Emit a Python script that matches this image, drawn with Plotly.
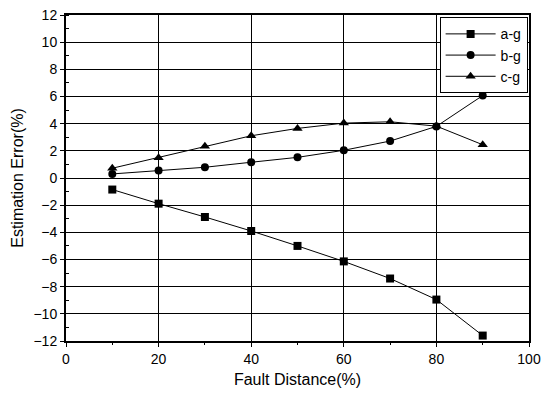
import plotly.graph_objects as go

distance = [10, 20, 30, 40, 50, 60, 70, 80, 90]
ag = [-0.85, -1.89, -2.87, -3.9, -5.0, -6.14, -7.4, -8.95, -11.6]
bg = [0.3, 0.55, 0.79, 1.16, 1.52, 2.04, 2.72, 3.8, 6.07]
cg = [0.72, 1.5, 2.33, 3.11, 3.65, 4.04, 4.14, 3.82, 2.45]

series = [("a-g", ag, "square"), ("b-g", bg, "circle"), ("c-g", cg, "triangle-up")]

fig = go.Figure()
for name, vals, sym in series:
    fig.add_trace(go.Scatter(
        x=distance, y=vals, name=name, mode="lines+markers",
        line=dict(color="black", width=1),
        marker=dict(symbol=sym, size=8 if sym != "triangle-up" else 9, color="black"),
    ))

font = "Liberation Sans, Arial, sans-serif"
fig.update_layout(
    width=541, height=396,
    margin=dict(l=66, r=12, t=15, b=55, autoexpand=False),
    paper_bgcolor="white", plot_bgcolor="white",
    font=dict(family=font, size=14, color="black"),
    showlegend=True,
    legend=dict(x=0.997, y=0.993, xanchor="right", yanchor="top",
                bordercolor="black", borderwidth=1, bgcolor="white",
                font=dict(size=14), tracegroupgap=0, itemwidth=50),
)
fig.update_xaxes(
    range=[0, 100], tickvals=[0, 20, 40, 60, 80, 100],
    showgrid=True, gridcolor="black", gridwidth=1,
    showline=True, linecolor="black", linewidth=2, mirror=True,
    ticks="outside", ticklen=4, tickcolor="black",
    minor=dict(tickvals=[10, 30, 50, 70, 90], ticks="outside", ticklen=2, tickcolor="black"),
    title=dict(text="Fault Distance(%)", font=dict(size=16), standoff=8),
    zeroline=False, automargin=False,
)
fig.update_yaxes(
    range=[-12, 12], tickvals=list(range(-12, 13, 2)),
    showgrid=True, gridcolor="black", gridwidth=1,
    showline=True, linecolor="black", linewidth=2, mirror=True,
    ticks="outside", ticklen=4, tickcolor="black",
    minor=dict(dtick=1, ticks="inside", ticklen=3, tickcolor="black"),
    title=dict(text="Estimation Error(%)", font=dict(size=16), standoff=6),
    zeroline=False, automargin=False,
)

fig.write_html(
    "out.html",
    config={"displayModeBar": False},
    post_script="document.body.style.margin='0';document.body.style.padding='0';",
)
